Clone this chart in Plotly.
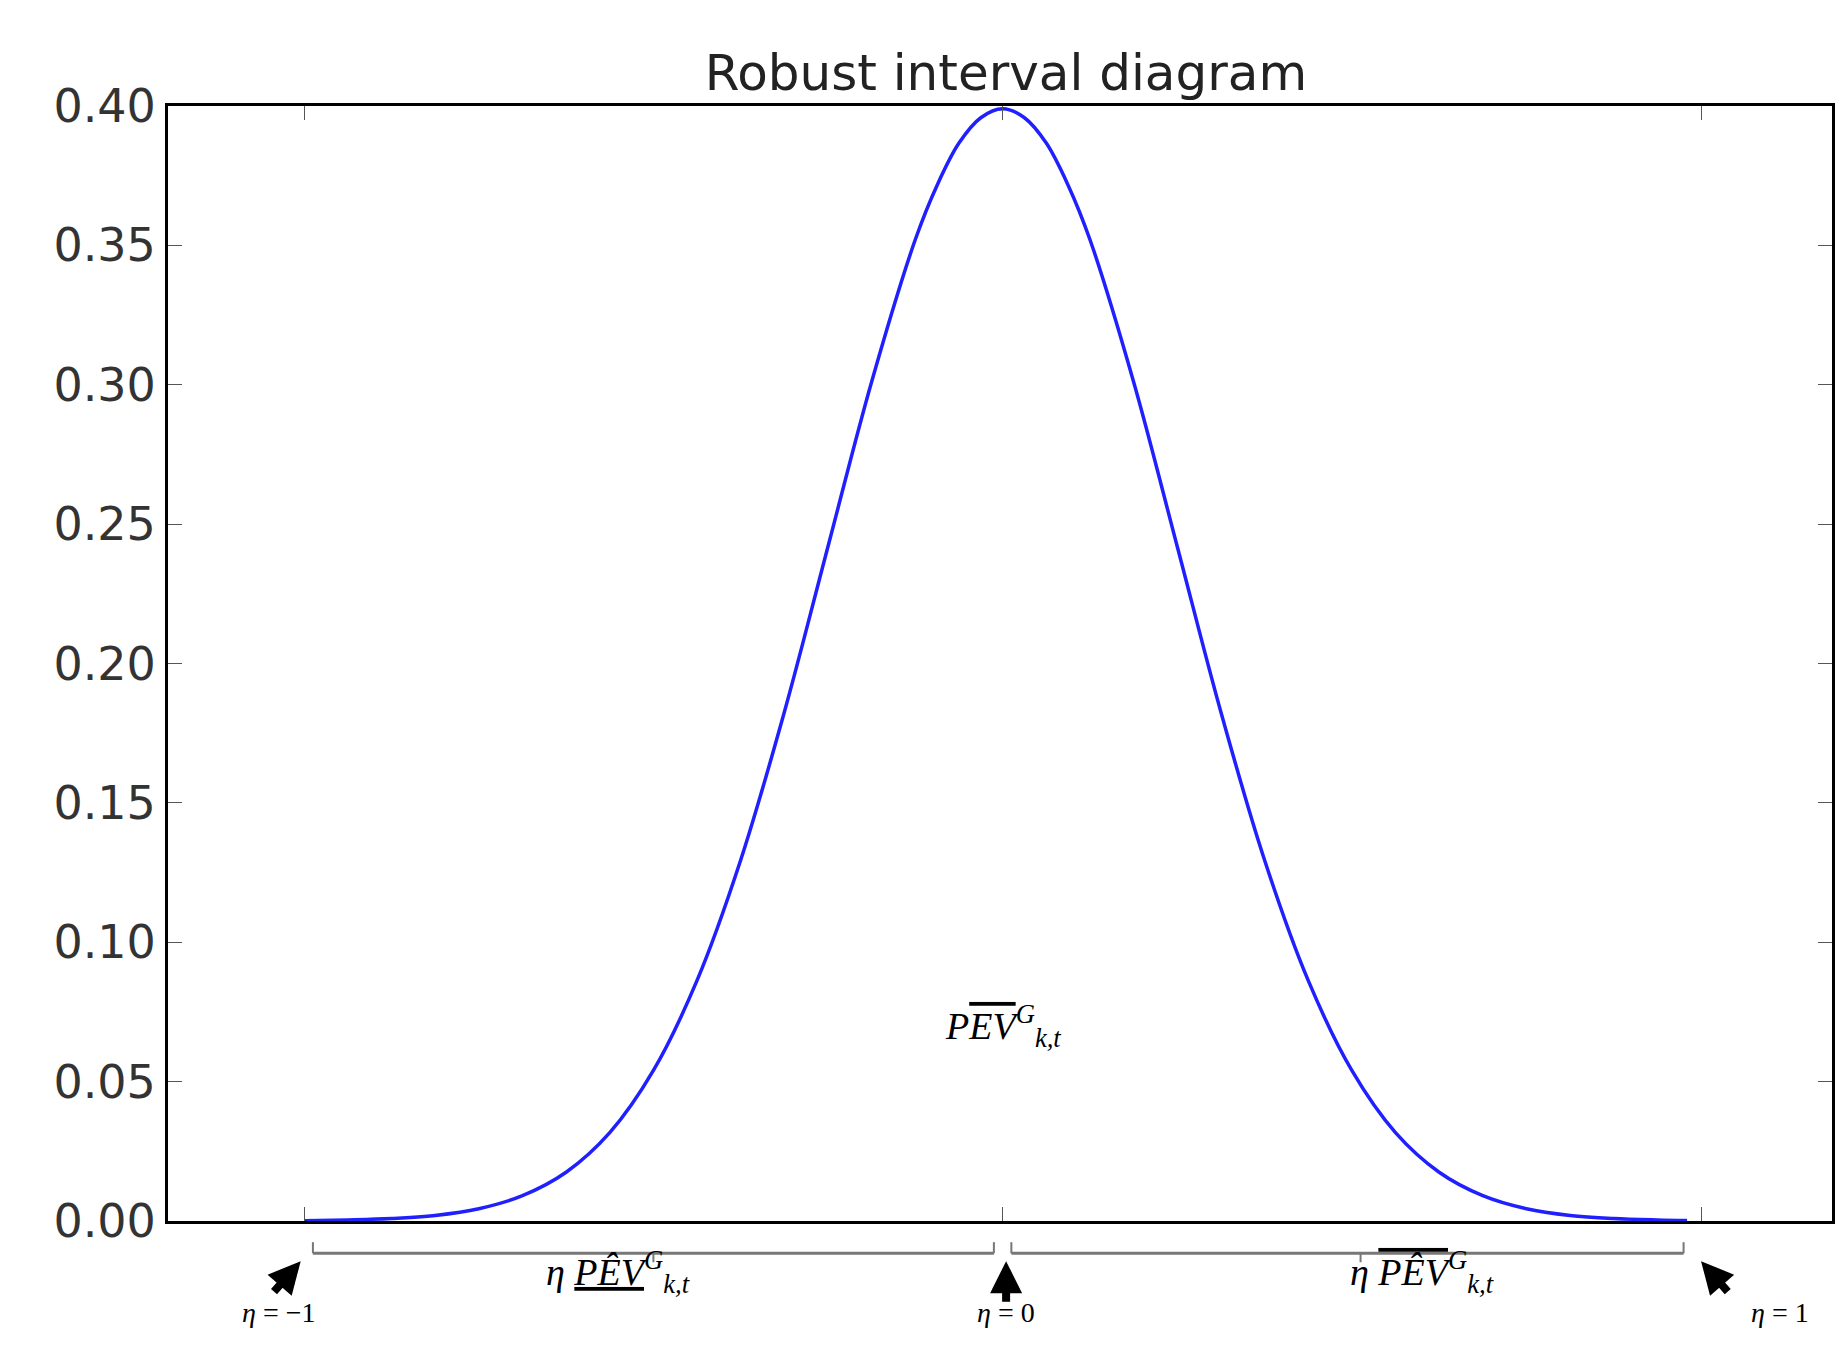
import plotly.graph_objects as go

x_vals = [-4.0,-3.75,-3.5,-3.25,-3.0,-2.75,-2.5,-2.25,-2.0,-1.75,-1.5,-1.25,-1.0,-0.75,-0.5,-0.375,-0.25,-0.125,0.0,
          0.125,0.25,0.375,0.5,0.75,1.0,1.25,1.5,1.75,2.0,2.25,2.5,2.75,3.0,3.25,3.5,3.75,3.92]
y_vals = [0.0001,0.0004,0.0009,0.002,0.0044,0.0091,0.0175,0.0317,0.054,0.0863,0.1295,0.1826,0.242,0.3011,0.3521,0.3716,0.3867,0.3958,0.399,
          0.3958,0.3867,0.3716,0.3521,0.3011,0.242,0.1826,0.1295,0.0863,0.054,0.0317,0.0175,0.0091,0.0044,0.002,0.0009,0.0004,0.0002]
y_ticks = [0.0,0.05,0.10,0.15,0.20,0.25,0.30,0.35,0.40]

fig = go.Figure(go.Scatter(x=x_vals, y=y_vals, mode="lines", line=dict(color="#2020ff", width=3.5, shape="spline")))

L, R, T, B = 160, 24, 98, 136
fig.update_layout(
    width=1848, height=1349, plot_bgcolor="white", paper_bgcolor="white",
    margin=dict(l=L, r=R, t=T, b=B), showlegend=False,
    title=dict(text="Robust interval diagram", x=0.54, xanchor="center", y=0.965,
               font=dict(family="DejaVu Sans", size=50, color="#222")),
    font=dict(family="DejaVu Sans", size=46, color="#333"),
)
fig.update_xaxes(range=[-4.78, 4.75], tickvals=[-4, 0, 4], showticklabels=False, ticks="inside",
                 ticklen=14, tickcolor="#555", showgrid=False, zeroline=False, showline=True,
                 linecolor="black", linewidth=3, mirror="ticks")
fig.update_yaxes(range=[0, 0.40], tickvals=y_ticks, tickformat=".2f", ticks="inside", ticklen=14,
                 tickcolor="#555", showgrid=False, zeroline=False, showline=True,
                 linecolor="black", linewidth=3, mirror="ticks")

sfont = dict(family="Liberation Serif", size=28, color="black")
yb = -0.029
for x0, x1 in [(-3.95, -0.05), (0.05, 3.9)]:
    fig.add_shape(type="line", xref="x", yref="paper", x0=x0, x1=x1, y0=yb, y1=yb, line=dict(color="#777", width=3))
    for xx in (x0, x1):
        fig.add_shape(type="line", xref="x", yref="paper", x0=xx, x1=xx, y0=yb, y1=yb+0.01, line=dict(color="#777", width=2))
for xx in (-2.0, 2.05):
    fig.add_shape(type="line", xref="x", yref="paper", x0=xx, x1=xx, y0=yb, y1=yb-0.008, line=dict(color="#777", width=2))

fig.add_annotation(x=0, y=0.07, xref="x", yref="y", text="<i>P<span style='text-decoration:overline'>EV</span><sup>G</sup><sub>k,t</sub></i>",
                   showarrow=False, font=dict(family="Liberation Serif", size=38, color="black"))
fig.add_annotation(x=-2.2, y=-0.072, xref="x", yref="paper", text="<i>η <u>PÊV</u><sup>G</sup><sub>k,t</sub></i>",
                   showarrow=False, font=dict(family="Liberation Serif", size=38, color="black"))
fig.add_annotation(x=2.4, y=-0.072, xref="x", yref="paper", text="<i>η <span style='text-decoration:overline'>PÊV</span><sup>G</sup><sub>k,t</sub></i>",
                   showarrow=False, font=dict(family="Liberation Serif", size=38, color="black"))
for xx, lab in [(-4.15, "<i>η</i> = −1"), (0.02, "<i>η</i> = 0"), (4.45, "<i>η</i> = 1")]:
    fig.add_annotation(x=xx, y=-0.098, xref="x", yref="paper", text=lab, showarrow=False, font=sfont)
for (xh, ax, ay) in [(-4.02, -28, 32), (0.02, 0, 42), (4.0, 28, 32)]:
    fig.add_annotation(x=xh, y=-0.036, xref="x", yref="paper", text="", showarrow=True,
                       arrowhead=2, arrowsize=0.8, arrowwidth=8, arrowcolor="black", ax=ax, ay=ay, standoff=0)

fig.write_html("out.html")
